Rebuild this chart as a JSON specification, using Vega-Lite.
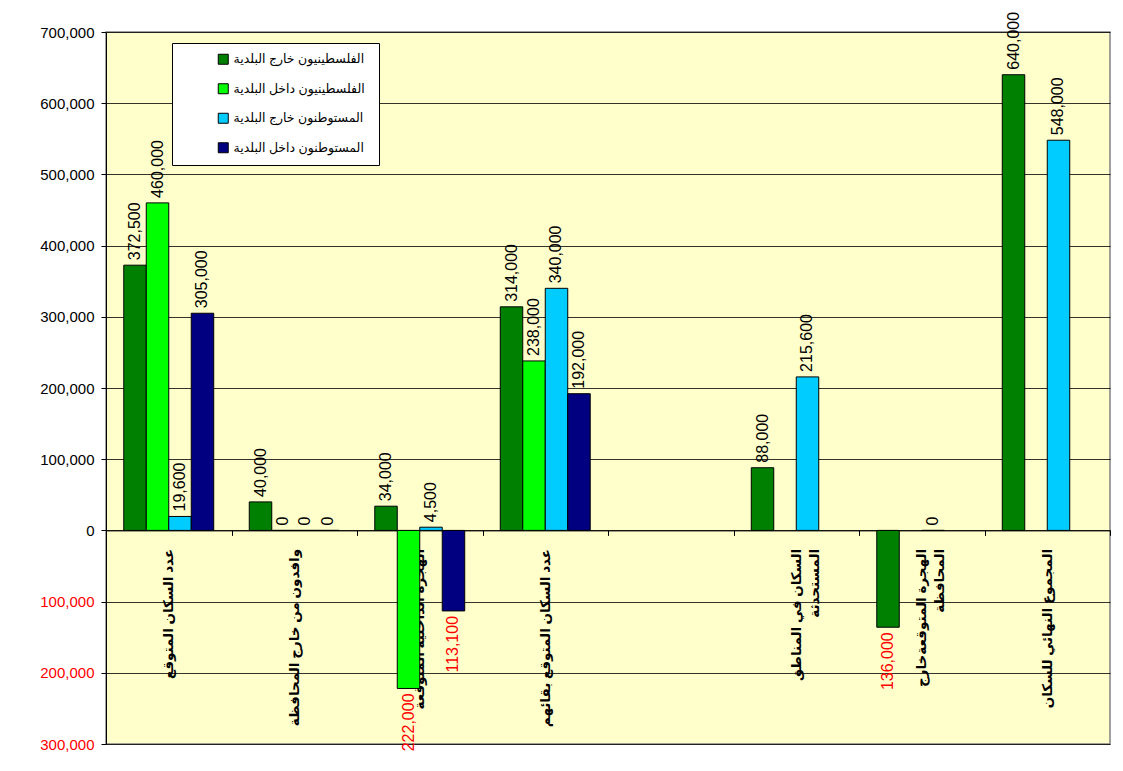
{
  "$schema": "https://vega.github.io/schema/vega-lite/v6.json",
  "width": 1004,
  "height": 712,
  "autosize": {"type": "none"},
  "padding": {"left": 106, "top": 32, "right": 13, "bottom": 27},
  "background": "white",
  "config": {
    "view": {"fill": "#FFFFCC", "stroke": "#808080", "strokeWidth": 1.5},
    "font": "Liberation Sans, Arial, DejaVu Sans, sans-serif"
  },
  "data": {
    "values": [
      {"category": "عدد السكان المتوقع", "series": "الفلسطينيون  خارج البلدية", "value": 372500},
      {"category": "عدد السكان المتوقع", "series": "الفلسطينيون  داخل البلدية", "value": 460000},
      {"category": "عدد السكان المتوقع", "series": "المستوطنون  خارج البلدية", "value": 19600},
      {"category": "عدد السكان المتوقع", "series": "المستوطنون  داخل البلدية", "value": 305000},
      {"category": "وافدون من خارج المحافظة", "series": "الفلسطينيون  خارج البلدية", "value": 40000},
      {"category": "وافدون من خارج المحافظة", "series": "الفلسطينيون  داخل البلدية", "value": 0},
      {"category": "وافدون من خارج المحافظة", "series": "المستوطنون  خارج البلدية", "value": 0},
      {"category": "وافدون من خارج المحافظة", "series": "المستوطنون  داخل البلدية", "value": 0},
      {"category": "الهجرة الداخلية المتوقعة", "series": "الفلسطينيون  خارج البلدية", "value": 34000},
      {"category": "الهجرة الداخلية المتوقعة", "series": "الفلسطينيون  داخل البلدية", "value": -222000},
      {"category": "الهجرة الداخلية المتوقعة", "series": "المستوطنون  خارج البلدية", "value": 4500},
      {"category": "الهجرة الداخلية المتوقعة", "series": "المستوطنون  داخل البلدية", "value": -113100},
      {"category": "عدد السكان المتوقع بقائهم", "series": "الفلسطينيون  خارج البلدية", "value": 314000},
      {"category": "عدد السكان المتوقع بقائهم", "series": "الفلسطينيون  داخل البلدية", "value": 238000},
      {"category": "عدد السكان المتوقع بقائهم", "series": "المستوطنون  خارج البلدية", "value": 340000},
      {"category": "عدد السكان المتوقع بقائهم", "series": "المستوطنون  داخل البلدية", "value": 192000},
      {"category": "السكان في المناطق|المستحدثة", "series": "الفلسطينيون  خارج البلدية", "value": 88000},
      {"category": "السكان في المناطق|المستحدثة", "series": "المستوطنون  خارج البلدية", "value": 215600},
      {"category": "الهجرة المتوقعةخارج|المحافظة", "series": "الفلسطينيون  خارج البلدية", "value": -136000},
      {"category": "الهجرة المتوقعةخارج|المحافظة", "series": "المستوطنون  خارج البلدية", "value": 0},
      {"category": "المجموع النهائي للسكان", "series": "الفلسطينيون  خارج البلدية", "value": 640000},
      {"category": "المجموع النهائي للسكان", "series": "المستوطنون  خارج البلدية", "value": 548000}
    ]
  },
  "encoding": {
    "x": {
      "field": "category",
      "type": "nominal",
      "title": null,
      "scale": {
        "domain": ["عدد السكان المتوقع", "وافدون من خارج المحافظة", "الهجرة الداخلية المتوقعة", "عدد السكان المتوقع بقائهم", " ", "السكان في المناطق|المستحدثة", "الهجرة المتوقعةخارج|المحافظة", "المجموع النهائي للسكان"],
        "paddingInner": 0,
        "paddingOuter": 0
      },
      "axis": {
        "orient": "bottom",
        "offset": -213.6,
        "labelAngle": -90,
        "labelExpr": "split(datum.label, '|')",
        "labelFontSize": 13.5,
        "labelFontWeight": "bold",
        "labelColor": "black",
        "labelPadding": 13,
        "labelLineHeight": 18,
        "labelLimit": 0,
        "labelOverlap": false,
        "labelBound": false,
        "tickBand": "extent",
        "tickSize": 5,
        "tickColor": "black",
        "domainColor": "black",
        "domainWidth": 1,
        "grid": false,
        "encode": {
          "labels": {
            "update": {
              "dy": {"signal": "length(split(datum.label, '|')) > 1 ? -9 : 0"}
            }
          }
        }
      }
    },
    "xOffset": {
      "field": "series",
      "type": "nominal",
      "scale": {
        "domain": ["الفلسطينيون  خارج البلدية", "الفلسطينيون  داخل البلدية", "المستوطنون  خارج البلدية", "المستوطنون  داخل البلدية"],
        "paddingInner": 0,
        "paddingOuter": 0.79
      }
    },
    "y": {
      "field": "value",
      "type": "quantitative",
      "title": null,
      "scale": {"domain": [-300000, 700000], "nice": false},
      "axis": {
        "values": [-300000, -200000, -100000, 0, 100000, 200000, 300000, 400000, 500000, 600000, 700000],
        "labelExpr": "format(abs(datum.value), ',')",
        "labelColor": {"condition": {"test": "datum.value < 0", "value": "#FF0000"}, "value": "#000000"},
        "labelFontSize": 15,
        "labelPadding": 7,
        "tickSize": 5,
        "tickColor": "black",
        "domainColor": "black",
        "grid": true,
        "gridColor": "#000000",
        "gridOpacity": 0.8,
        "gridWidth": 1
      }
    }
  },
  "layer": [
    {
      "mark": {"type": "bar", "stroke": "black", "strokeWidth": 1},
      "encoding": {
        "color": {
          "field": "series",
          "type": "nominal",
          "scale": {
            "domain": ["الفلسطينيون  خارج البلدية", "الفلسطينيون  داخل البلدية", "المستوطنون  خارج البلدية", "المستوطنون  داخل البلدية"],
            "range": ["#008000", "#00FF00", "#00CCFF", "#000080"]
          },
          "legend": {
            "orient": "none",
            "legendX": 66,
            "legendY": 11,
            "title": null,
            "fillColor": "white",
            "strokeColor": "black",
            "padding": 10,
            "symbolType": "square",
            "symbolSize": 100,
            "symbolStrokeColor": "black",
            "symbolStrokeWidth": 1,
            "symbolOpacity": 1,
            "symbolOffset": 35,
            "labelOffset": 4,
            "labelFontSize": 12.5,
            "labelColor": "black",
            "labelLimit": 0,
            "rowPadding": 14.5
          }
        }
      }
    },
    {
      "transform": [{"filter": "datum.value >= 0"}],
      "mark": {"type": "text", "angle": 270, "align": "left", "baseline": "middle", "dx": 5, "fontSize": 16, "color": "black"},
      "encoding": {
        "text": {"field": "value", "type": "quantitative", "format": ","}
      }
    },
    {
      "transform": [{"filter": "datum.value < 0"}],
      "mark": {"type": "text", "angle": 270, "align": "right", "baseline": "middle", "dx": -5, "fontSize": 16, "color": "#FF0000", "text": {"expr": "format(abs(datum.value), ',')"}},
      "encoding": {}
    }
  ]
}
